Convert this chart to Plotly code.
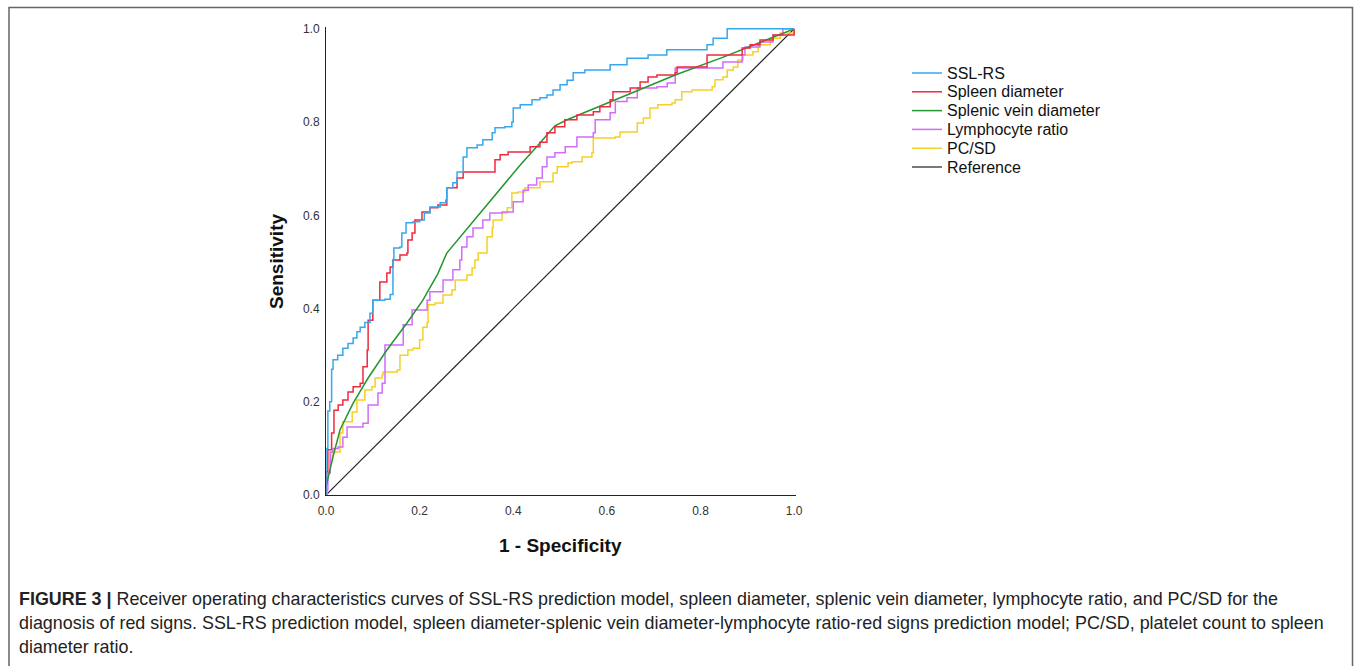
import plotly.graph_objects as go

# ROC curve vertices (1 - specificity, sensitivity)
ssl_fpr = [0, 0.0, 0.004, 0.008, 0.012, 0.015, 0.025, 0.036, 0.047, 0.058, 0.066, 0.073, 0.083, 0.094, 0.10,
           0.126, 0.137, 0.143, 0.143, 0.145, 0.158, 0.162, 0.171, 0.186, 0.2, 0.21, 0.222, 0.244, 0.256,
           0.258, 0.271, 0.28, 0.293, 0.301, 0.323, 0.335, 0.355, 0.361, 0.382, 0.397, 0.4, 0.415, 0.44,
           0.457, 0.472, 0.485, 0.5, 0.515, 0.528, 0.553, 0.607, 0.643, 0.688, 0.728, 0.814, 0.827, 0.857, 1.0]
ssl_tpr = [0, 0.10, 0.18, 0.2, 0.27, 0.29, 0.3, 0.315, 0.325, 0.337, 0.35, 0.36, 0.37, 0.39, 0.418,
           0.42, 0.43, 0.46, 0.504, 0.53, 0.532, 0.562, 0.584, 0.586, 0.59, 0.605, 0.618, 0.627, 0.633,
           0.659, 0.67, 0.693, 0.725, 0.745, 0.751, 0.762, 0.777, 0.788, 0.79, 0.80, 0.83, 0.837, 0.848,
           0.852, 0.858, 0.869, 0.88, 0.89, 0.906, 0.912, 0.923, 0.937, 0.944, 0.955, 0.966, 0.98, 1.0, 1.0]

spleen_fpr = [0, 0.0, 0.004, 0.012, 0.017, 0.026, 0.036, 0.047, 0.058, 0.073, 0.079, 0.088, 0.09, 0.1, 0.115,
              0.13, 0.137, 0.143, 0.158, 0.173, 0.175, 0.184, 0.19, 0.205, 0.222, 0.239, 0.258, 0.258, 0.28,
              0.293, 0.35, 0.361, 0.372, 0.389, 0.436, 0.457, 0.472, 0.489, 0.51, 0.528, 0.536, 0.571, 0.585,
              0.607, 0.613, 0.65, 0.671, 0.688, 0.707, 0.746, 0.75, 0.778, 0.814, 0.885, 0.889, 0.906, 0.927,
              0.955, 1.0]
spleen_tpr = [0, 0.05, 0.097, 0.133, 0.182, 0.193, 0.204, 0.221, 0.232, 0.24, 0.275, 0.311, 0.375, 0.418, 0.457,
              0.476, 0.489, 0.504, 0.515, 0.519, 0.547, 0.562, 0.59, 0.607, 0.616, 0.622, 0.627, 0.659, 0.68,
              0.693, 0.693, 0.719, 0.73, 0.736, 0.747, 0.757, 0.777, 0.79, 0.805, 0.805, 0.815, 0.822, 0.833,
              0.848, 0.865, 0.873, 0.886, 0.897, 0.901, 0.906, 0.918, 0.918, 0.944, 0.944, 0.959, 0.966, 0.976,
              0.987, 1.0]

vein_fpr = [0, 0.002, 0.015, 0.03, 0.058, 0.09, 0.13, 0.173, 0.207, 0.239, 0.258, 0.329, 0.415, 0.45, 0.489,
            0.515, 0.6, 0.746, 0.85, 1.0]
vein_tpr = [0.02, 0.026, 0.082, 0.14, 0.197, 0.251, 0.311, 0.369, 0.418, 0.475, 0.519, 0.605, 0.708, 0.747, 0.792,
            0.805, 0.84, 0.901, 0.94, 1.0]

lymph_fpr = [0, 0.002, 0.004, 0.009, 0.015, 0.026, 0.036, 0.045, 0.079, 0.09, 0.111, 0.12, 0.126, 0.141, 0.165,
             0.184, 0.216, 0.222, 0.25, 0.271, 0.286, 0.29, 0.301, 0.314, 0.335, 0.35, 0.376, 0.4, 0.421, 0.432,
             0.45, 0.462, 0.472, 0.489, 0.511, 0.536, 0.571, 0.575, 0.607, 0.618, 0.643, 0.665, 0.707, 0.729,
             0.746, 0.746, 0.835, 0.848, 0.889, 0.895, 0.927, 0.955, 0.976, 1.0]
lymph_tpr = [0, 0.011, 0.047, 0.092, 0.1, 0.103, 0.124, 0.146, 0.154, 0.193, 0.219, 0.24, 0.322, 0.322, 0.365,
             0.397, 0.418, 0.436, 0.461, 0.483, 0.504, 0.532, 0.554, 0.573, 0.59, 0.605, 0.607, 0.629, 0.654, 0.665,
             0.68, 0.704, 0.725, 0.734, 0.747, 0.768, 0.777, 0.805, 0.82, 0.844, 0.852, 0.873, 0.876, 0.884,
             0.891, 0.916, 0.916, 0.929, 0.944, 0.961, 0.972, 0.987, 1.0, 1.0]

pcsd_fpr = [0, 0.0, 0.002, 0.009, 0.013, 0.024, 0.03, 0.036, 0.056, 0.066, 0.083, 0.098, 0.105, 0.12, 0.122,
            0.152, 0.158, 0.175, 0.186, 0.2, 0.207, 0.216, 0.218, 0.233, 0.25, 0.269, 0.276, 0.301, 0.312, 0.318,
            0.325, 0.344, 0.355, 0.357, 0.376, 0.387, 0.397, 0.41, 0.425, 0.45, 0.457, 0.485, 0.494, 0.517,
            0.526, 0.547, 0.568, 0.571, 0.618, 0.628, 0.665, 0.678, 0.692, 0.709, 0.739, 0.746, 0.76, 0.782,
            0.825, 0.831, 0.848, 0.857, 0.87, 0.88, 0.891, 0.912, 0.923, 0.949, 0.97, 1.0]
pcsd_tpr = [0, 0.004, 0.047, 0.075, 0.092, 0.092, 0.133, 0.157, 0.178, 0.204, 0.225, 0.232, 0.251, 0.258, 0.264,
            0.268, 0.3, 0.311, 0.315, 0.333, 0.36, 0.37, 0.408, 0.412, 0.429, 0.44, 0.461, 0.472, 0.487, 0.504,
            0.519, 0.554, 0.573, 0.59, 0.605, 0.616, 0.648, 0.65, 0.659, 0.659, 0.672, 0.691, 0.704, 0.712,
            0.715, 0.725, 0.734, 0.766, 0.768, 0.779, 0.798, 0.809, 0.83, 0.837, 0.841, 0.848, 0.865, 0.869,
            0.876, 0.891, 0.897, 0.912, 0.918, 0.933, 0.944, 0.951, 0.966, 0.98, 0.991, 1.0]

ref_fpr = [0, 1]
ref_tpr = [0, 1]

tick_vals = [0, 0.2, 0.4, 0.6, 0.8, 1.0]
tick_text = ["0.0", "0.2", "0.4", "0.6", "0.8", "1.0"]

caption_lines = [
    "<b>FIGURE 3 |</b> Receiver operating characteristics curves of SSL-RS prediction model, spleen diameter, "
    "splenic vein diameter, lymphocyte ratio, and PC/SD for the",
    "diagnosis of red signs. SSL-RS prediction model, spleen diameter-splenic vein diameter-lymphocyte ratio-red "
    "signs prediction model; PC/SD, platelet count to spleen",
    "diameter ratio.",
]

FONT = "Arial, Liberation Sans, sans-serif"

series = [
    ("SSL-RS", ssl_fpr, ssl_tpr, "#36A8EE", "hv", 1.5),
    ("Spleen diameter", spleen_fpr, spleen_tpr, "#EE2A40", "hv", 1.5),
    ("Splenic vein diameter", vein_fpr, vein_tpr, "#22962F", "linear", 1.5),
    ("Lymphocyte ratio", lymph_fpr, lymph_tpr, "#D26CFA", "hv", 1.5),
    ("PC/SD", pcsd_fpr, pcsd_tpr, "#F6D025", "hv", 1.5),
    ("Reference", ref_fpr, ref_tpr, "#222222", "linear", 1.2),
]

fig = go.Figure()
for name, xs, ys, col, shape, w in series[::-1]:
    fig.add_trace(go.Scatter(x=xs, y=ys, mode="lines", name=name, showlegend=False,
                             line=dict(color=col, width=w, shape=shape)))

# plot area on screen: x 326..796, y 27..495 (body margin removed below)
L, R = 326, 1355 - 796
T, B = 27, 666 - 495
W, H = 1355 - L - R, 666 - T - B


def px(xs):
    return (xs - L) / W


def py(ys):
    return (666 - B - ys) / H


axis_style = dict(range=[0, 1.004], showgrid=False, zeroline=False, showline=True,
                  linecolor="#222222", linewidth=1, ticks="", tickvals=tick_vals, ticktext=tick_text,
                  tickfont=dict(family=FONT, size=12, color="#333333"), fixedrange=True)
fig.update_xaxes(**axis_style, ticklabelstandoff=5)
fig.update_yaxes(**axis_style, ticklabelstandoff=3)

annotations = [
    dict(text="<b>Sensitivity</b>", x=px(276), y=py(262), textangle=-90,
         font=dict(family=FONT, size=19, color="#111111")),
    dict(text="<b>1 - Specificity</b>", x=px(560), y=py(545),
         font=dict(family=FONT, size=19, color="#111111")),
]
for k, line in enumerate(caption_lines):
    annotations.append(dict(text=line, x=px(17), y=py(599 + 24 * k), xanchor="left",
                            font=dict(family=FONT, size=17.9, color="#222222")))

# legend drawn by hand: sample line + label per row
shapes = []
for k, (name, xs, ys, col, shape, w) in enumerate(series):
    yrow = 73 + 18.8 * k
    shapes.append(dict(type="line", xref="paper", yref="paper",
                       x0=px(912), x1=px(942), y0=py(yrow), y1=py(yrow),
                       line=dict(color=col, width=w)))
    annotations.append(dict(text=name, x=px(945), y=py(yrow), xanchor="left",
                            font=dict(family=FONT, size=16, color="#111111")))

for a in annotations:
    a.update(xref="paper", yref="paper", showarrow=False, yanchor="middle",
             xanchor=a.get("xanchor", "center"))

shapes.append(dict(type="rect", xref="paper", yref="paper",
                   x0=px(9), x1=px(1352.5), y0=py(690), y1=py(7.5),
                   line=dict(color="#666666", width=1.5)))

fig.update_layout(
    width=1355, height=666,
    margin=dict(l=L, r=R, t=T, b=B),
    paper_bgcolor="white", plot_bgcolor="white",
    showlegend=False,
    annotations=annotations,
    shapes=shapes,
)

fig.write_html("out.html", config={"displayModeBar": False},
               post_script="document.body.style.margin = '0px';")
